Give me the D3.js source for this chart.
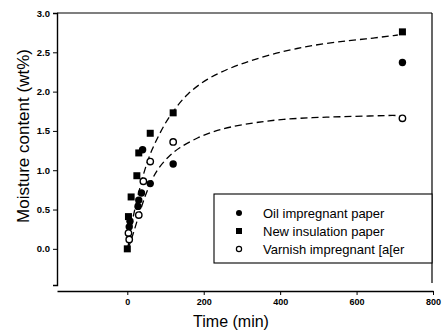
<!DOCTYPE html>
<html>
<head>
<meta charset="utf-8">
<script src="https://cdn.jsdelivr.net/npm/d3@7"></script>
<style>
  body { margin: 0; background: #fff; }
  svg { font-family: "Liberation Sans", Arial, sans-serif; }
</style>
</head>
<body>
<div id="chart"></div>
<script>
const WIDTH = 445, HEIGHT = 333;

// data (time in min, moisture in wt%)
const oilTime = [5, 7, 28, 30, 37, 40, 60, 120, 720];
const oilVal  = [0.28, 0.35, 0.54, 0.62, 0.71, 1.26, 0.83, 1.08, 2.37];
const newTime = [0, 3, 10, 25, 30, 60, 120, 720];
const newVal  = [0.00, 0.41, 0.66, 0.93, 1.22, 1.47, 1.73, 2.76];
const varTime = [3, 5, 30, 42, 60, 120, 720];
const varVal  = [0.20, 0.12, 0.43, 0.86, 1.11, 1.36, 1.66];

// dashed fit curves
const upperT = [0, 4.5, 11.5, 25, 38, 51, 64, 81, 99, 120, 155, 210, 268, 320, 381, 443, 512, 582, 643, 708];
const upperV = [0, 0.08, 0.33, 0.62, 0.88, 1.09, 1.26, 1.43, 1.60, 1.75, 1.97, 2.17, 2.30, 2.39, 2.48, 2.55, 2.61, 2.65, 2.68, 2.72];
const lowerT = [0, 4.5, 16, 29, 46, 64, 81, 107, 133, 185, 229, 268, 338, 408, 486, 556, 634, 704, 716];
const lowerV = [0, 0.03, 0.20, 0.41, 0.67, 0.88, 1.03, 1.17, 1.28, 1.42, 1.50, 1.55, 1.61, 1.65, 1.67, 1.68, 1.69, 1.70, 1.69];

const xTicks = [0, 200, 400, 600, 800];
const yTicks = [0, 0.5, 1.0, 1.5, 2.0, 2.5, 3.0];
const legendLabels = ["Oil impregnant paper", "New insulation paper", "Varnish impregnant [a[er"];

const L = 57, R = 432, T = 13, B = 285, XAX = 291;

const svg = d3.select("#chart").append("svg")
  .attr("width", WIDTH).attr("height", HEIGHT);

const x = d3.scaleLinear().domain([-184, 800]).range([L, 433]);
const y = d3.scaleLinear().domain([-0.46, 3.0]).range([B, T]);

// frame top + right
svg.append("line").attr("x1", L).attr("x2", R).attr("y1", T).attr("y2", T)
  .attr("stroke", "#000").attr("stroke-width", 1.2);
svg.append("line").attr("x1", R).attr("x2", R).attr("y1", T).attr("y2", 283)
  .attr("stroke", "#000").attr("stroke-width", 1.2);

// y axis
const gy = svg.append("g").attr("transform", `translate(${L},0)`)
  .call(d3.axisLeft(y).tickValues(yTicks).tickFormat(d3.format(".1f")).tickSize(4).tickPadding(3));
gy.select(".domain").attr("stroke-width", 1.4);
gy.selectAll("text").attr("font-size", 9.5).attr("font-weight", "bold").attr("fill", "#000");

// x axis (offset below frame)
const gx = svg.append("g").attr("transform", `translate(0,${XAX})`)
  .call(d3.axisBottom(x).tickValues(xTicks).tickSize(4).tickPadding(4).tickSizeOuter(0));
gx.select(".domain").attr("stroke-width", 1.4);
gx.selectAll("text").attr("font-size", 9).attr("font-weight", "bold").attr("fill", "#000");

// axis titles
svg.append("text").attr("x", 231).attr("y", 327).attr("text-anchor", "middle")
  .attr("font-size", 16).text("Time (min)");
svg.append("text").attr("transform", "translate(29,136) rotate(-90)")
  .attr("text-anchor", "middle").attr("font-size", 17).text("Moisture content (wt%)");

// fit curves
const line = d3.line().x(d => x(d[0])).y(d => y(d[1])).curve(d3.curveBasis);
[[upperT, upperV], [lowerT, lowerV]].forEach(([ts, vs]) => {
  svg.append("path").datum(ts.map((t, i) => [t, vs[i]]))
    .attr("fill", "none").attr("stroke", "#000").attr("stroke-width", 1.3)
    .attr("stroke-dasharray", "7,4").attr("d", line);
});

// markers
const sq = 7;
svg.append("g").selectAll("rect").data(newTime.map((t, i) => [t, newVal[i]])).join("rect")
  .attr("x", d => x(d[0]) - sq / 2).attr("y", d => y(d[1]) - sq / 2)
  .attr("width", sq).attr("height", sq).attr("fill", "#000");
svg.append("g").selectAll("circle").data(oilTime.map((t, i) => [t, oilVal[i]])).join("circle")
  .attr("cx", d => x(d[0])).attr("cy", d => y(d[1])).attr("r", 3.7).attr("fill", "#000");
svg.append("g").selectAll("circle").data(varTime.map((t, i) => [t, varVal[i]])).join("circle")
  .attr("cx", d => x(d[0])).attr("cy", d => y(d[1])).attr("r", 3.2)
  .attr("fill", "#fff").attr("stroke", "#000").attr("stroke-width", 1.4);

// legend
const lg = svg.append("g");
lg.append("rect").attr("x", 214).attr("y", 194).attr("width", 218).attr("height", 69)
  .attr("fill", "#fff").attr("stroke", "#000").attr("stroke-width", 1.1);
const rowY = [213, 231, 249];
lg.append("circle").attr("cx", 239).attr("cy", rowY[0]).attr("r", 3).attr("fill", "#000");
lg.append("rect").attr("x", 236).attr("y", rowY[1] - 3).attr("width", 6).attr("height", 6).attr("fill", "#000");
lg.append("circle").attr("cx", 239).attr("cy", rowY[2]).attr("r", 2.6)
  .attr("fill", "#fff").attr("stroke", "#000").attr("stroke-width", 1.2);
legendLabels.forEach((s, i) => {
  lg.append("text").attr("x", 263).attr("y", rowY[i] + 4.5).attr("font-size", 13).text(s);
});
</script>
</body>
</html>
